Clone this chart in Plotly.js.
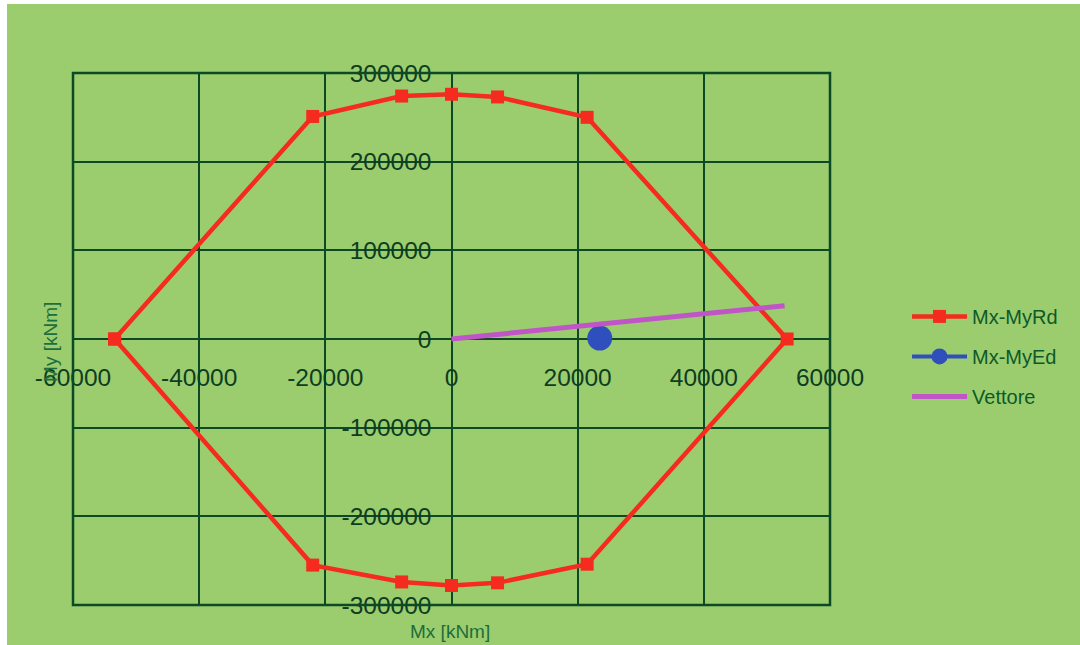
<!DOCTYPE html>
<html><head><meta charset="utf-8">
<script src="https://cdn.plot.ly/plotly-3.0.1.min.js"></script>
<style>
html,body{margin:0;padding:0;background:#9bcd6f;width:1080px;height:645px;overflow:hidden;position:relative}
#topstrip{position:absolute;left:0;top:0;width:1080px;height:4px;background:#ffffff}
#leftstrip{position:absolute;left:0;top:0;width:7px;height:645px;background:#ffffff}
#chart{position:absolute;left:7px;top:4px;width:1073px;height:641px}
</style>
</head><body><div id="topstrip"></div><div id="leftstrip"></div><div id="chart"></div>
<script>
// Domain Mx-MyRd (closed curve)
const rdMx = [-53400, -22000, -7900, 0, 7300, 21500, 53200, 21500, 7300, 0, -7900, -22000, -53400];
const rdMy = [0, 251000, 274000, 276000, 273000, 250000, 0, -254000, -275000, -278000, -274000, -255000, 0];
// Design point Mx-MyEd
const edMx = [23500];
const edMy = [1000];
// Vector
const vecMx = [0, 52800];
const vecMy = [0, 37500];
// Ticks
const xTicks = [-60000, -40000, -20000, 0, 20000, 40000, 60000];
const yTicks = [-300000, -200000, -100000, 0, 100000, 200000, 300000];
const seriesNames = ["Mx-MyRd", "Mx-MyEd", "Vettore"];
const axisTitles = ["Mx [kNm]", "My [kNm]"];

const grid = "#0b4a24";
const tickFont = {family: "Liberation Sans, Arial, sans-serif", size: 24.5, color: "#0e3d1f"};

const traces = [
  {x: rdMx, y: rdMy, name: seriesNames[0], type: "scatter", mode: "lines+markers",
   line: {color: "#f42b1e", width: 4.5}, marker: {symbol: "square", size: 13, color: "#f42b1e"},
   legendgroup: "a"},
  {x: edMx, y: edMy, name: seriesNames[1], type: "scatter", mode: "lines+markers",
   line: {color: "#2f4fbd", width: 4}, marker: {symbol: "circle", size: 25, color: "#2f4fbd"},
   legendgroup: "b"},
  {x: vecMx, y: vecMy, name: seriesNames[2], type: "scatter", mode: "lines",
   line: {color: "#c055c8", width: 5}, legendgroup: "c"}
];

const layout = {
  width: 1073, height: 641,
  paper_bgcolor: "#9bcd6f", plot_bgcolor: "#9bcd6f",
  margin: {l: 66, r: 250, t: 69, b: 40},
  showlegend: true,
  xaxis: {
    range: [-60000, 60000], tickvals: xTicks, ticktext: xTicks.map(String),
    anchor: "free", position: 0.5, showline: false,
    showgrid: true, gridcolor: grid, gridwidth: 2,
    zeroline: true, zerolinecolor: grid, zerolinewidth: 2,
    ticks: "", ticklabelstandoff: 21, tickfont: tickFont, fixedrange: true
  },
  yaxis: {
    range: [-300000, 300000], tickvals: yTicks, ticktext: yTicks.map(String),
    anchor: "free", position: 0.5, showline: false,
    showgrid: true, gridcolor: grid, gridwidth: 2,
    zeroline: true, zerolinecolor: grid, zerolinewidth: 2,
    ticks: "", ticklabelstandoff: 20, tickfont: tickFont, fixedrange: true
  },
  shapes: [
    {type: "rect", xref: "paper", yref: "paper", x0: 0, x1: 1, y0: 0, y1: 1,
     line: {color: grid, width: 2.5}, fillcolor: "rgba(0,0,0,0)", layer: "above"}
  ],
  annotations: [
    {text: axisTitles[0], xref: "paper", yref: "paper", x: 0.498, y: -0.049,
     xanchor: "center", yanchor: "middle", showarrow: false,
     font: {family: "Liberation Sans, Arial, sans-serif", size: 19, color: "#1d6e3a"}},
    {text: axisTitles[1], xref: "paper", yref: "paper", x: -0.030, y: 0.495,
     xanchor: "center", yanchor: "middle", showarrow: false, textangle: -90,
     font: {family: "Liberation Sans, Arial, sans-serif", size: 19, color: "#1d6e3a"}}
  ],
  legend: {
    xref: "container", yref: "container", x: 0.8388, y: 0.543,
    xanchor: "left", yanchor: "top", bgcolor: "rgba(0,0,0,0)",
    font: {family: "Liberation Sans, Arial, sans-serif", size: 20, color: "#0c5a28"},
    tracegroupgap: 11, itemwidth: 55
  }
};

Plotly.newPlot("chart", traces, layout, {displayModeBar: false, staticPlot: true});
</script>
</body></html>
